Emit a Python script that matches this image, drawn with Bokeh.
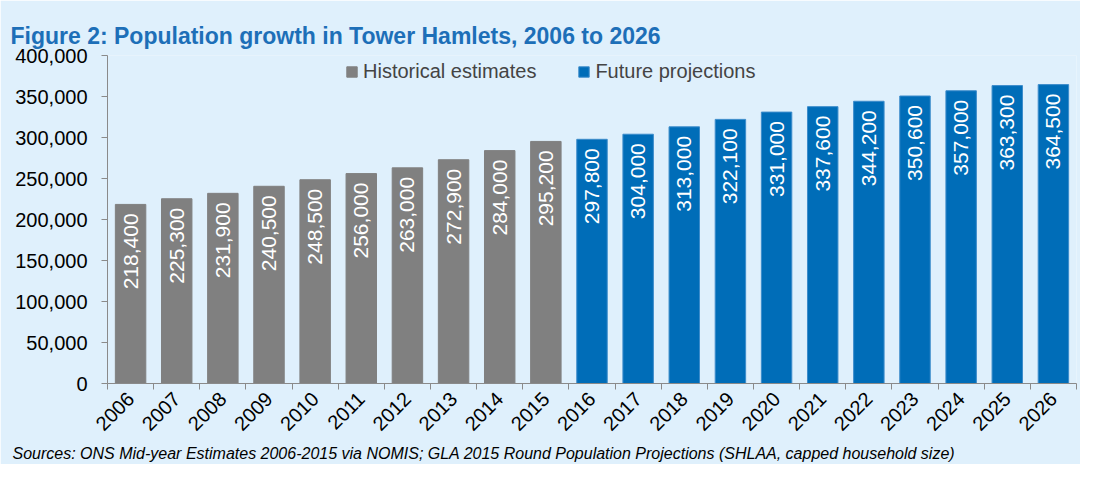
import math
from bokeh.plotting import figure
from bokeh.models import ColumnDataSource, Range1d, FixedTicker, Title, NumeralTickFormatter
from bokeh.core.properties import value
from bokeh.embed import file_html
from bokeh.resources import INLINE

hist_years = [2006, 2007, 2008, 2009, 2010, 2011, 2012, 2013, 2014, 2015]
hist_values = [218400, 225300, 231900, 240500, 248500, 256000, 263000, 272900, 284000, 295200]
proj_years = [2016, 2017, 2018, 2019, 2020, 2021, 2022, 2023, 2024, 2025, 2026]
proj_values = [297800, 304000, 313000, 322100, 331000, 337600, 344200, 350600, 357000, 363300, 364500]

TITLE = "Figure 2: Population growth in Tower Hamlets, 2006 to 2026"
NOTE = "Sources: ONS Mid-year Estimates 2006-2015 via NOMIS; GLA 2015 Round Population Projections (SHLAA, capped household size)"

FONT = "Liberation Sans"
BG = "#DFF0FC"
GREY = "#808080"
BLUE = "#006DB8"

years = hist_years + proj_years
idx = {y: i for i, y in enumerate(years)}

hist_src = ColumnDataSource(dict(x=[idx[y] for y in hist_years], y=hist_values,
                                 lab=[f"{v:,}" for v in hist_values]))
proj_src = ColumnDataSource(dict(x=[idx[y] for y in proj_years], y=proj_values,
                                 lab=[f"{v:,}" for v in proj_values]))

p = figure(frame_width=969, frame_height=328, output_backend="svg", toolbar_location=None,
           x_range=Range1d(-0.5, len(years) - 0.5), y_range=Range1d(0, 400000),
           min_border_left=107, min_border_right=4, min_border_top=55, min_border_bottom=80)
p.background_fill_color = BG
p.border_fill_color = BG
p.outline_line_color = None
p.xgrid.visible = False
p.ygrid.visible = False

p.vbar(x="x", top="y", width=0.66, source=hist_src, fill_color=GREY, line_color=GREY,
       legend_label="Historical estimates")
p.vbar(x="x", top="y", width=0.66, source=proj_src, fill_color=BLUE, line_color="#3C8CCB",
       legend_label="Future projections")

for src in (hist_src, proj_src):
    p.text(x="x", y="y", text="lab", source=src, angle=math.pi / 2, text_align="right",
           text_baseline="middle", y_offset=9, text_color="white",
           text_font=value(FONT), text_font_size="21px")

# axes
yax = p.yaxis[0]
yax.ticker = FixedTicker(ticks=list(range(0, 400001, 50000)))
yax.formatter = NumeralTickFormatter(format="0,0")
yax.major_label_text_font = FONT
yax.major_label_text_font_size = "20px"
yax.major_label_text_color = "black"
yax.axis_line_color = "#8A8A8A"
yax.major_tick_line_color = "#8A8A8A"
yax.major_tick_out = 6
yax.major_tick_in = 0
yax.minor_tick_line_color = None
yax.major_label_standoff = 14

xax = p.xaxis[0]
xax.ticker = FixedTicker(ticks=list(range(len(years))),
                         minor_ticks=[i - 0.5 for i in range(len(years) + 1)])
xax.major_label_overrides = {i: str(y) for i, y in enumerate(years)}
xax.major_label_orientation = math.pi / 4
xax.major_label_text_font = FONT
xax.major_label_text_font_size = "20px"
xax.major_label_text_color = "black"
xax.axis_line_color = "#8A8A8A"
xax.major_tick_out = 0
xax.major_tick_in = 0
xax.minor_tick_line_color = "#8A8A8A"
xax.minor_tick_out = 6
xax.minor_tick_in = 0
xax.major_label_standoff = 6

# title
p.title.text = TITLE
p.title.text_font = FONT
p.title.text_font_size = "23px"
p.title.text_font_style = "bold"
p.title.text_color = "#1D6FB8"
p.title.align = "left"
p.title.offset = -97
p.title.vertical_align = "top"
p.title.standoff = 10

src_note = Title(text=NOTE, text_font=FONT, text_font_size="16px", text_font_style="italic",
                 text_color="black", align="left", offset=-95, standoff=6)
p.add_layout(src_note, "below")

lg = p.legend[0]
lg.orientation = "horizontal"
lg.location = (238, 300)
lg.background_fill_alpha = 0
lg.border_line_color = None
lg.label_text_font = FONT
lg.label_text_font_size = "20px"
lg.glyph_width = 13
lg.glyph_height = 13
lg.spacing = 41
lg.padding = 0
lg.margin = 0
lg.label_standoff = 5

open("out.html", "w").write(file_html(p, INLINE))
